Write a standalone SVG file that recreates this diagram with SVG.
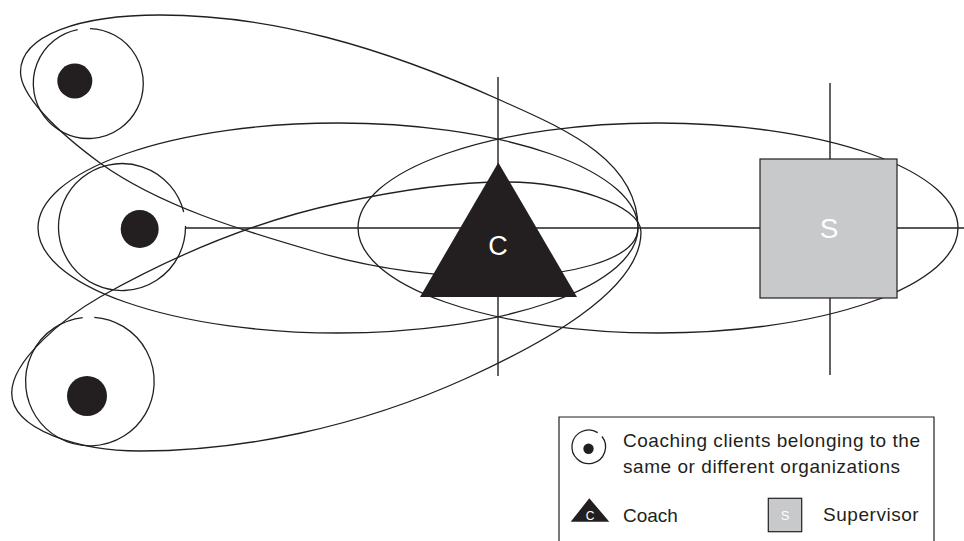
<svg xmlns="http://www.w3.org/2000/svg" width="964" height="541" viewBox="0 0 964 541">
<style>
.ln{fill:none;stroke:#231f20;stroke-width:1.3}
.ax{fill:none;stroke:#231f20;stroke-width:1.4}
.dot{fill:#231f20}
.coach{fill:#231f20}
.sup{fill:#c8c9cb;stroke:#231f20;stroke-width:1.2}
.lbl{font-family:"Liberation Sans",Arial,sans-serif;fill:#ffffff;text-anchor:middle}
.txt{font-family:"Liberation Sans",Arial,sans-serif;fill:#231f20;font-size:19px}
</style>
<rect width="964" height="541" fill="#ffffff"/>
<g id="connectors">
<path class="ln" d="M638,228 C638,158 560,127 500,100 C380,46 270,15 160,15 C80,15 20.5,35 20.5,72 C20.5,95 55,130 100,163 C160,206 240,230 320,253 C380,270 440,277 498,277 C560,277 638,262 638,228 Z"/>
<path class="ln" d="M641,232 C641,292 537,346 467,378 C357,428 240,451 140,451 C80,451 11.7,430 11.7,393 C11.7,360 65,317 100,297 C180,252 260,220 340,203 C395,191 450,182 505,182 C570,182 641,205 641,232 Z"/>
<ellipse class="ln" cx="338" cy="228" rx="300" ry="105"/>
<ellipse class="ln" cx="658" cy="228" rx="300" ry="105"/>
<line class="ax" x1="186" y1="228" x2="964" y2="228"/>
<line class="ax" x1="498" y1="77" x2="498" y2="376"/>
<line class="ax" x1="830" y1="83" x2="830" y2="375"/>
</g>
<g id="client-1">
<path class="ln" d="M90,28.53 A55,55 0 1 1 77.7,29.53"/>
<circle class="dot" cx="74.8" cy="81" r="17.5"/>
</g>
<g id="client-2">
<path class="ln" d="M185.5,226 A63.5,63.5 0 1 1 183.7,212"/>
<circle class="dot" cx="139.7" cy="229" r="19"/>
</g>
<g id="client-3">
<path class="ln" d="M94.3,317.35 A64.3,64.3 0 1 1 82.7,317.6"/>
<circle class="dot" cx="87" cy="396" r="20"/>
</g>
<g id="coach">
<polygon class="coach" points="498.3,162.5 577,297 420,297"/>
<text class="lbl" x="498" y="255" font-size="27">C</text>
</g>
<g id="supervisor">
<rect class="sup" x="760" y="159" width="137" height="139"/>
<text class="lbl" x="829" y="238" font-size="28">S</text>
</g>
<g id="legend">
<path fill="none" stroke="#231f20" stroke-width="1.2" d="M559,541 V417 H934 V541"/>
<path class="ln" d="M602,436.5 A16.8,16.8 0 1 1 597.7,432.6"/>
<circle class="dot" cx="588.5" cy="448.8" r="5.2"/>
<text class="txt" x="623" y="447" textLength="297" lengthAdjust="spacing">Coaching clients belonging to the</text>
<text class="txt" x="623" y="473" textLength="277" lengthAdjust="spacing">same or different organizations</text>
<polygon class="coach" points="589.3,498.3 609.3,521.7 570.7,521.7"/>
<text class="lbl" x="590" y="520" font-size="12">C</text>
<text class="txt" x="623" y="522">Coach</text>
<rect class="sup" x="768.3" y="498.3" width="33.4" height="33.4"/>
<text class="lbl" x="785" y="520" font-size="13">S</text>
<text class="txt" x="823" y="521" textLength="95.7" lengthAdjust="spacing">Supervisor</text>
</g>
</svg>
